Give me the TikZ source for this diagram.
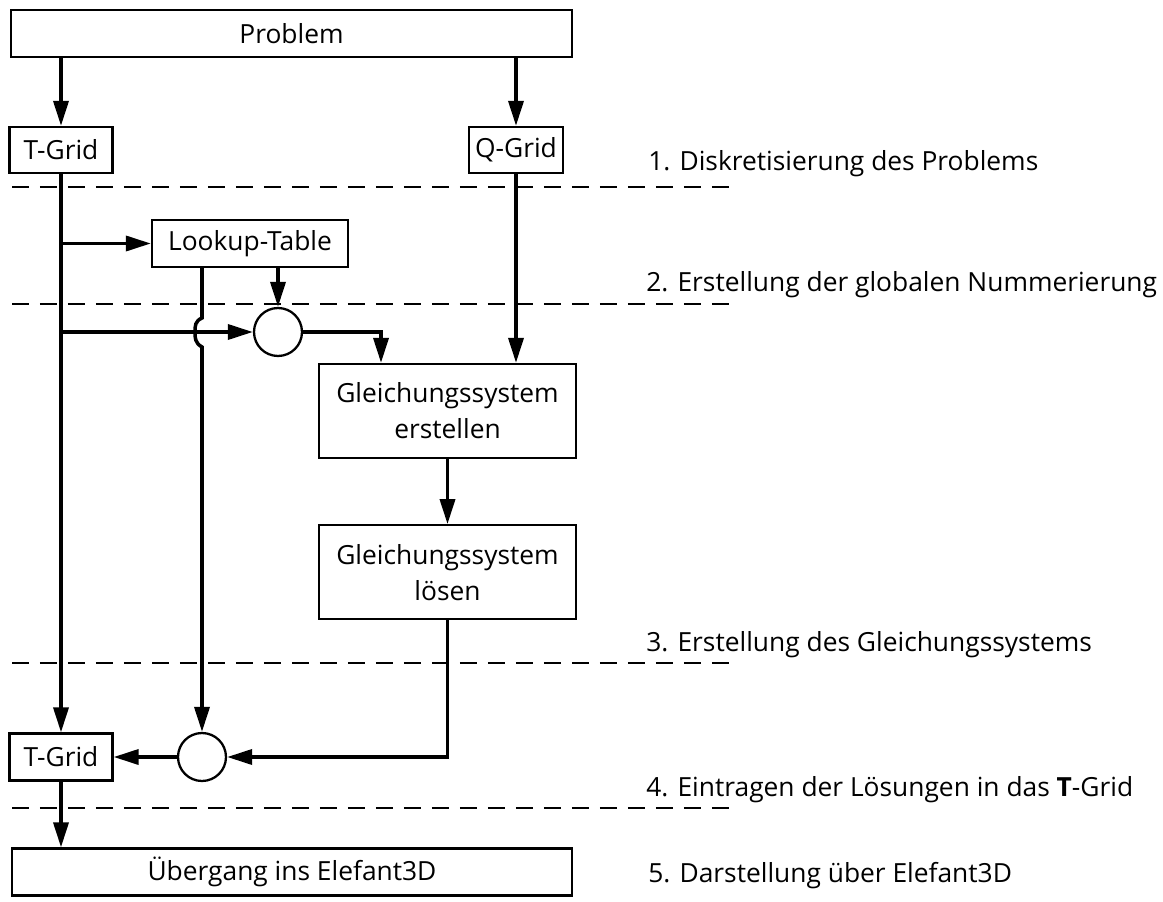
\documentclass[tikz,border=0pt]{standalone}
\usepackage{fontspec}
\setmainfont{Open Sans}
\usetikzlibrary{positioning,arrows.meta}
\tikzset{box node/.style={draw,rectangle,line width=1.3pt,inner sep=0pt,align=center,font=\fontsize{15pt}{20.5pt}\selectfont},
	sum node/.style={circle,draw,line width=1.3pt,minimum size=0.96cm,inner sep=0pt},
	flow/.style={line width=2pt,-{Triangle[length=5mm,width=3mm]}},
	phase line/.style={line width=1.6pt,dash pattern=on 0.34cm off 0.22cm},
	phase label/.style={anchor=west,inner sep=0pt,font=\fontsize{15pt}{17pt}\selectfont},
}
\begin{document}
\begin{tikzpicture}[x=0.02cm,y=-0.02cm]
				\useasboundingbox (0,0) rectangle (1163,902);
				
				% boxes
				\node[box node,minimum width=11.22cm,minimum height=0.94cm] (problem) at (291.5,33.5) {Problem};
				\node[box node,minimum width=2.06cm,minimum height=0.92cm] (tgridA) at (61,150) {T-Grid};
				\node[box node,minimum width=1.88cm,minimum height=0.92cm] (qgrid) at (516,150) {Q-Grid};
				\node[box node,minimum width=3.92cm,minimum height=0.94cm] (lookup) at (250,243.5) {Lookup-Table};
				\node[sum node] (sumA) at (278,332) {};
				\node[box node,minimum width=5.14cm,minimum height=1.88cm] (setup) at (447.5,411) {Gleichungssystem\\erstellen};
				\node[box node,minimum width=5.14cm,minimum height=1.88cm] (solve) [below=1.3cm of setup] {Gleichungssystem\\lösen};
				\node[sum node] (sumB) at (202,757) {};
				\node[box node,minimum width=2.06cm,minimum height=0.94cm] (tgridB) at (61,757) {T-Grid};
				\node[box node,minimum width=11.2cm,minimum height=0.94cm] (final) at (292,872) {Übergang ins Elefant3D};
				
				% phases
				\draw[phase line] (12,187) -- (735,187);
				\draw[phase line] (12,304) -- (735,304);
				\draw[phase line] (12,663) -- (735,663);
				\draw[phase line] (12,808) -- (735,808);
				\node[phase label] (phase1) at (648,164) {1. Diskretisierung des Problems};
				\node[phase label] (phase2) at (646,285) {2. Erstellung der globalen Nummerierung};
				\node[phase label] (phase3) at (646,645) {3. Erstellung des Gleichungssystems};
				\node[phase label] (phase4) at (646,790) {4. Eintragen der Lösungen in das \textbf{T}-Grid};
				\node[phase label] (phase5) at (648,876) {5. Darstellung über Elefant3D};
				
				% connectors
				\draw[flow] (problem.south -| tgridA.north) -- (tgridA.north);
				\draw[flow] (problem.south -| qgrid.north) -- (qgrid.north);
				\draw[flow] (tgridA.south) -- (tgridB.north);
				\draw[flow] (tgridA.south |- lookup.west) -- (lookup.west);
				\draw[flow] (tgridA.south |- sumA.west) -- (sumA.west);
				\draw[flow] (sumA.north |- lookup.south) -- (sumA.north);
				\draw[flow] (sumB.north |- lookup.south) -- (202,318)
					.. controls (195,321) and (195,326) .. (195,332)
					.. controls (195,338) and (195,343) .. (202,347) -- (sumB.north);
				\draw[flow] (sumA.east) -| ([xshift=-1.33cm]setup.north);
				\draw[flow] (qgrid.south) -- (qgrid.south |- setup.north);
				\draw[flow] (setup.south) -- (solve.north);
				\draw[flow] (solve.south) |- (sumB.east);
				\draw[flow] (sumB.west) -- (tgridB.east);
				\draw[flow] (tgridB.south) -- (tgridB.south |- final.north);
				
			\end{tikzpicture}
\end{document}
